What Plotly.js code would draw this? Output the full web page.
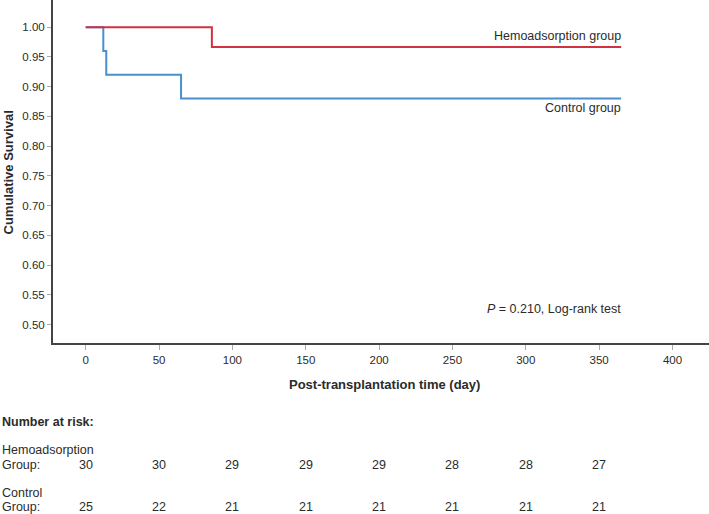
<!DOCTYPE html>
<html>
<head>
<meta charset="utf-8">
<script src="https://cdn.plot.ly/plotly-3.0.1.min.js"></script>
<style>html,body{margin:0;padding:0;background:#fff;}#chart{width:709px;height:514px;}</style>
</head>
<body>
<div id="chart"></div>
<script>
// Kaplan-Meier step data (time in days, survival)
var hemoTime = [0, 86, 365];
var hemoSurv = [1.0, 0.9667, 0.9667];
var ctrlTime = [0, 12, 14, 65, 365];
var ctrlSurv = [1.0, 0.96, 0.92, 0.88, 0.88];

// Number at risk
var riskTimes = [0, 50, 100, 150, 200, 250, 300, 350];
var hemoRisk = [30, 30, 29, 29, 29, 28, 28, 27];
var ctrlRisk = [25, 22, 21, 21, 21, 21, 21, 21];

var xTicks = [0, 50, 100, 150, 200, 250, 300, 350, 400];
var yTicks = [0.50, 0.55, 0.60, 0.65, 0.70, 0.75, 0.80, 0.85, 0.90, 0.95, 1.00];

var FONT = 'Liberation Sans, Arial, sans-serif';
var TXT = '#2b2b2b';

var traces = [
  {x: ctrlTime, y: ctrlSurv, mode: 'lines', line: {shape: 'hv', color: '#4a8fd0', width: 2}, name: 'Control group', hoverinfo: 'skip'},
  {x: hemoTime, y: hemoSurv, mode: 'lines', line: {shape: 'hv', color: '#d2323f', width: 2}, name: 'Hemoadsorption group', hoverinfo: 'skip'}
];

function py(p) { return (343 - p) / 343; }
function px(p) { return (p - 53) / 656; }

var ann = [
  {xref: 'x', yref: 'paper', x: 366, y: py(36), xanchor: 'right', yanchor: 'middle', text: 'Hemoadsorption group', showarrow: false, font: {size: 12.5, color: TXT}},
  {xref: 'x', yref: 'paper', x: 366, y: py(108), xanchor: 'right', yanchor: 'middle', text: 'Control group', showarrow: false, font: {size: 12.5, color: TXT}},
  {xref: 'x', yref: 'paper', x: 366, y: py(309), xanchor: 'right', yanchor: 'middle', text: '<i>P</i> = 0.210, Log-rank test', showarrow: false, font: {size: 12.5, color: TXT}},
  {xref: 'paper', yref: 'paper', x: px(384.5), y: py(385), xanchor: 'center', yanchor: 'middle', text: '<b>Post-transplantation time (day)</b>', showarrow: false, font: {size: 13, color: TXT}},
  {xref: 'paper', yref: 'paper', x: px(7.5), y: py(172), xanchor: 'center', yanchor: 'middle', textangle: -90, text: '<b>Cumulative Survival</b>', showarrow: false, font: {size: 13, color: TXT}},
  {xref: 'paper', yref: 'paper', x: px(0), y: py(422), xanchor: 'left', yanchor: 'middle', text: '<b>Number at risk:</b>', showarrow: false, font: {size: 12.5, color: TXT}},
  {xref: 'paper', yref: 'paper', x: px(0), y: py(450), xanchor: 'left', yanchor: 'middle', text: 'Hemoadsorption', showarrow: false, font: {size: 12.5, color: TXT}},
  {xref: 'paper', yref: 'paper', x: px(0), y: py(464.5), xanchor: 'left', yanchor: 'middle', text: 'Group:', showarrow: false, font: {size: 12.5, color: TXT}},
  {xref: 'paper', yref: 'paper', x: px(0), y: py(492.7), xanchor: 'left', yanchor: 'middle', text: 'Control', showarrow: false, font: {size: 12.5, color: TXT}},
  {xref: 'paper', yref: 'paper', x: px(0), y: py(506.7), xanchor: 'left', yanchor: 'middle', text: 'Group:', showarrow: false, font: {size: 12.5, color: TXT}}
];
riskTimes.forEach(function (t, i) {
  ann.push({xref: 'x', yref: 'paper', x: t, y: py(464.5), xanchor: 'center', yanchor: 'middle', text: String(hemoRisk[i]), showarrow: false, font: {size: 12.5, color: TXT}});
  ann.push({xref: 'x', yref: 'paper', x: t, y: py(506.7), xanchor: 'center', yanchor: 'middle', text: String(ctrlRisk[i]), showarrow: false, font: {size: 12.5, color: TXT}});
});

var layout = {
  width: 709, height: 514,
  margin: {l: 53, r: 0, t: 0, b: 171, pad: 0},
  paper_bgcolor: '#fff', plot_bgcolor: '#fff',
  showlegend: false,
  font: {family: FONT, color: TXT, size: 11},
  xaxis: {
    range: [-22.3, 424.9], tickvals: xTicks, ticktext: xTicks.map(String),
    showgrid: false, zeroline: false, showline: true, linecolor: '#444', linewidth: 2,
    ticks: 'outside', ticklen: 5, tickcolor: '#aaa', tickwidth: 1,
    tickfont: {size: 11.5, color: TXT}, fixedrange: true
  },
  yaxis: {
    range: [0.4692, 1.0457], tickvals: yTicks, ticktext: yTicks.map(function (v) { return v.toFixed(2); }),
    showgrid: false, zeroline: false, showline: true, linecolor: '#444', linewidth: 2,
    ticks: 'outside', ticklen: 4, tickcolor: '#aaa', tickwidth: 1,
    tickfont: {size: 11.5, color: TXT}, fixedrange: true
  },
  annotations: ann
};

Plotly.newPlot('chart', traces, layout, {staticPlot: true, displayModeBar: false});
</script>
</body>
</html>
